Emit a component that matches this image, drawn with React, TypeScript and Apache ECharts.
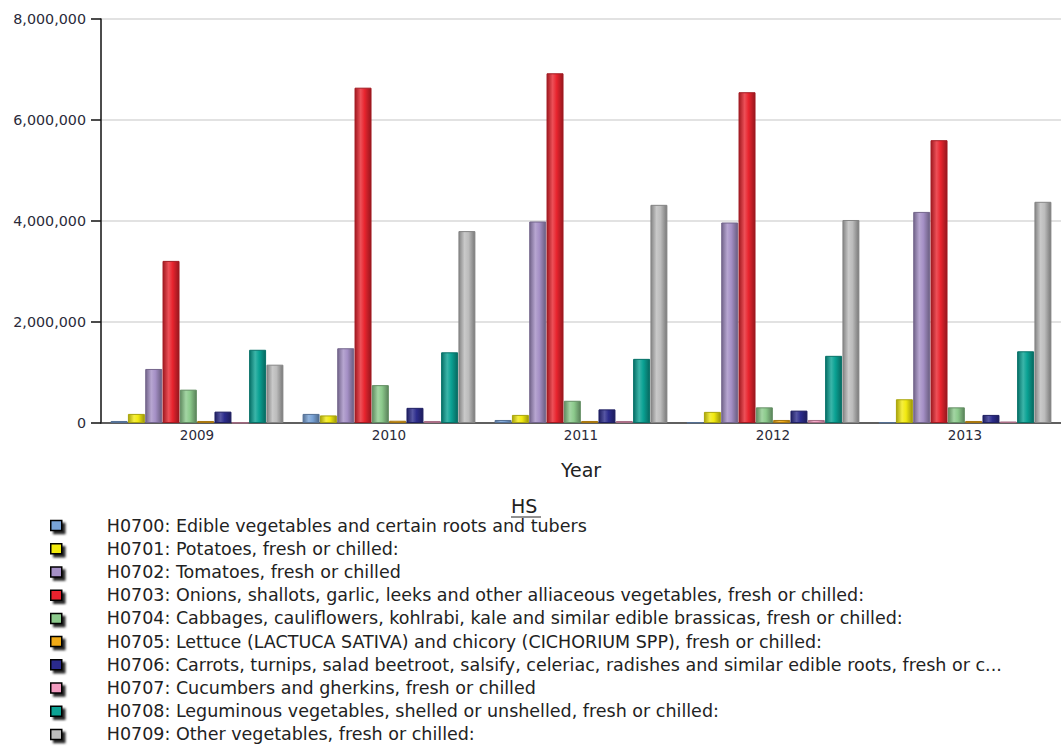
import React, { useEffect, useRef } from "react";
import * as echarts from "echarts";

// Categories (years) and export quantities per HS heading
const years = ["2009", "2010", "2011", "2012", "2013"];

const h0700 = [40000, 180000, 60000, 10000, 10000];
const h0701 = [180000, 150000, 160000, 220000, 470000];
const h0702 = [1070000, 1480000, 3990000, 3970000, 4180000];
const h0703 = [3210000, 6640000, 6925000, 6550000, 5600000];
const h0704 = [660000, 750000, 440000, 310000, 310000];
const h0705 = [40000, 45000, 40000, 60000, 40000];
const h0706 = [225000, 300000, 270000, 245000, 160000];
const h0707 = [5000, 40000, 40000, 60000, 30000];
const h0708 = [1450000, 1400000, 1270000, 1330000, 1420000];
const h0709 = [1155000, 3800000, 4320000, 4020000, 4380000];

const seriesNames = [
  "H0700: Edible vegetables and certain roots and tubers",
  "H0701: Potatoes, fresh or chilled:",
  "H0702: Tomatoes, fresh or chilled",
  "H0703: Onions, shallots, garlic, leeks and other alliaceous vegetables, fresh or chilled:",
  "H0704: Cabbages, cauliflowers, kohlrabi, kale and similar edible brassicas, fresh or chilled:",
  "H0705: Lettuce (LACTUCA SATIVA) and chicory (CICHORIUM SPP), fresh or chilled:",
  "H0706: Carrots, turnips, salad beetroot, salsify, celeriac, radishes and similar edible roots, fresh or c...",
  "H0707: Cucumbers and gherkins, fresh or chilled",
  "H0708: Leguminous vegetables, shelled or unshelled, fresh or chilled:",
  "H0709: Other vegetables, fresh or chilled:",
];

const seriesValues = [h0700, h0701, h0702, h0703, h0704, h0705, h0706, h0707, h0708, h0709];

const seriesColors = [
  "#78a2d6",
  "#f2ea10",
  "#a590c6",
  "#e8242e",
  "#8cca8c",
  "#f0aa14",
  "#2c2c8c",
  "#f29cc0",
  "#0aa294",
  "#bcbcbc",
];

function shade(hex: string, f: number): string {
  const n = parseInt(hex.slice(1), 16);
  let r = (n >> 16) & 255;
  let g = (n >> 8) & 255;
  let b = n & 255;
  if (f >= 0) {
    r = Math.round(r + (255 - r) * f);
    g = Math.round(g + (255 - g) * f);
    b = Math.round(b + (255 - b) * f);
  } else {
    r = Math.round(r * (1 + f));
    g = Math.round(g * (1 + f));
    b = Math.round(b * (1 + f));
  }
  return "rgb(" + r + "," + g + "," + b + ")";
}

function cylinder(hex: string) {
  return new echarts.graphic.LinearGradient(0, 0, 1, 0, [
    { offset: 0, color: shade(hex, -0.3) },
    { offset: 0.35, color: shade(hex, 0.2) },
    { offset: 0.6, color: hex },
    { offset: 1, color: shade(hex, -0.35) },
  ]);
}

const FONT = "DejaVu Sans";

export default function App() {
  const ref = useRef<HTMLDivElement>(null);

  useEffect(() => {
    if (!ref.current) return;
    const chart = echarts.init(ref.current, null, { renderer: "svg" });

    const series = seriesNames.map((name, i) => ({
      name,
      type: "bar",
      data: seriesValues[i],
      barGap: "2%",
      barCategoryGap: "10%",
      itemStyle: {
        color: cylinder(seriesColors[i]),
        borderColor: shade(seriesColors[i], -0.3),
        borderWidth: 1,
      },
    }));

    chart.setOption({
      animation: false,
      backgroundColor: "#ffffff",
      grid: { left: 101, top: 19, height: 404, width: 985 },
      xAxis: {
        type: "category",
        data: years,
        name: "Year",
        nameLocation: "middle",
        nameGap: 37,
        nameTextStyle: { fontFamily: FONT, fontSize: 19, color: "#222" },
        axisLine: { lineStyle: { color: "#333", width: 1.5 } },
        axisTick: { show: false },
        axisLabel: { fontFamily: FONT, fontSize: 13.5, color: "#2a2a3a", margin: 5 },
      },
      yAxis: {
        type: "value",
        min: 0,
        max: 8000000,
        interval: 2000000,
        axisLine: { show: true, lineStyle: { color: "#111", width: 1.5 } },
        axisTick: { show: true, length: 10, lineStyle: { color: "#111", width: 1.5 } },
        axisLabel: {
          fontFamily: FONT,
          fontSize: 14.3,
          color: "#2a2a3a",
          margin: 15,
          formatter: (v: number) => v.toLocaleString("en-US"),
        },
        splitLine: { lineStyle: { color: "#d8d8d8", width: 1.5 } },
      },
      legend: {
        orient: "vertical",
        left: 50,
        top: 514,
        padding: 0,
        itemWidth: 11,
        itemHeight: 10,
        itemGap: 0,
        selectedMode: false,
        icon: "rect",
        data: seriesNames.map((name, i) => ({
          name,
          itemStyle: {
            color: seriesColors[i],
            borderColor: "#000",
            borderWidth: 1.5,
            shadowColor: "rgba(0,0,0,0.85)",
            shadowBlur: 2,
            shadowOffsetX: 3,
            shadowOffsetY: 3,
          },
        })),
        textStyle: {
          fontFamily: FONT,
          fontSize: 17.5,
          color: "#222",
          lineHeight: 23.2,
          padding: [0, 0, 0, 40],
        },
      },
      graphic: [
        {
          type: "text",
          left: 511,
          top: 496,
          style: { text: "HS", fontFamily: FONT, fontSize: 19, fill: "#222" },
        },
        {
          type: "line",
          shape: { x1: 511, y1: 517, x2: 541, y2: 517 },
          style: { stroke: "#222", lineWidth: 1 },
        },
      ],
      series,
    });

    return () => chart.dispose();
  }, []);

  // Extra height below the window keeps the legend in a single column.
  return (
    <div
      ref={ref}
      style={{ position: "fixed", left: 0, top: 0, width: 1061, height: 770 }}
    />
  );
}
